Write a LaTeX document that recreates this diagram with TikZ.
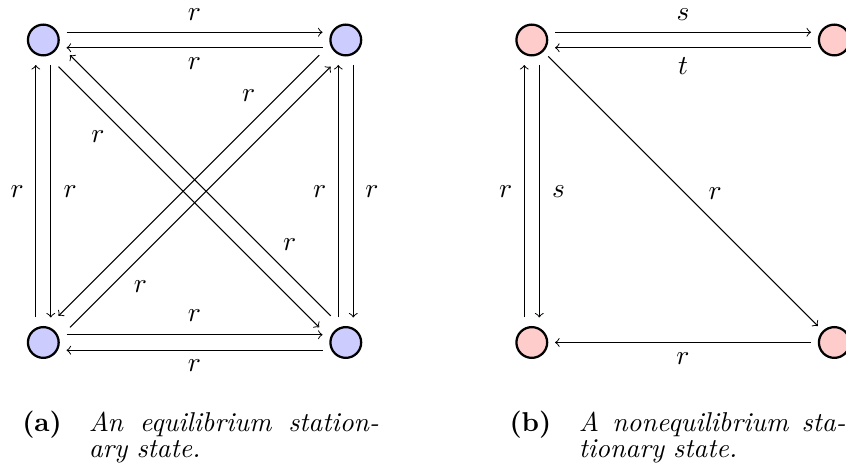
\documentclass[tikz,border=0pt]{standalone}
\usetikzlibrary{positioning}

\begin{document}
\begin{tikzpicture}[font=\fontsize{10.9}{10.1}\selectfont, node distance=121pt, on grid]
  \tikzstyle{state}=[circle, draw, line width=0.9pt, minimum size=12.3pt, inner sep=0pt]
  \tikzstyle{eqst}=[state, fill=blue!20]
  \tikzstyle{neqst}=[state, fill=red!20]
  \tikzstyle{rate}=[->, shorten >=2.7pt, shorten <=2.7pt]
  \tikzstyle{vshort}=[shorten >=3.4pt, shorten <=3.4pt]
  \tikzstyle{dshort}=[shorten >=5.2pt, shorten <=5.2pt]
  \tikzstyle{offset}=[transform canvas={shift={#1}}]
  \tikzstyle{captxt}=[anchor=base west, inner sep=0pt, text width=#1, align=left,
    font=\fontsize{10.9}{10.1}\selectfont\itshape]
  \useasboundingbox (-17.32pt,16pt) rectangle (321.08pt,-171.2pt);

  % (a) equilibrium
  \node[eqst] (a1) {};
  \node[eqst, right=of a1] (a2) {};
  \node[eqst, below=of a1] (a3) {};
  \node[eqst, below=of a2] (a4) {};
  \draw[rate, offset={(0,3.1pt)}] (a1) -- node[above=1.3pt]{$r$} (a2);
  \draw[rate, offset={(0,-3.1pt)}] (a2) -- node[below=0.4pt]{$r$} (a1);
  \draw[rate, offset={(0,3.1pt)}] (a3) -- node[above=1.8pt]{$r$} (a4);
  \draw[rate, offset={(0,-3.1pt)}] (a4) -- node[below=0.1pt]{$r$} (a3);
  \draw[rate, vshort, offset={(-3pt,0)}] (a3) -- node[left=1.3pt]{$r$} (a1);
  \draw[rate, vshort, offset={(3pt,0)}] (a1) -- node[right=1.6pt]{$r$} (a3);
  \draw[rate, vshort, offset={(-3pt,0)}] (a4) -- node[left=1.3pt]{$r$} (a2);
  \draw[rate, vshort, offset={(3pt,0)}] (a2) -- node[right=1.3pt]{$r$} (a4);
  \draw[rate, dshort, offset={(-2.3pt,-2.3pt)}] (a1) -- node[pos=0.23, below left]{$r$} (a4);
  \draw[rate, dshort, offset={(2.3pt,2.3pt)}] (a4) -- node[pos=0.235, above right]{$r$} (a1);
  \draw[rate, dshort, offset={(2.3pt,-2.3pt)}] (a3) -- node[pos=0.23, below right]{$r$} (a2);
  \draw[rate, dshort, offset={(-2.3pt,2.3pt)}] (a2) -- node[pos=0.23, above left]{$r$} (a3);

  % (b) nonequilibrium
  \node[neqst, right=195.4pt of a1] (b1) {};
  \node[neqst, right=of b1] (b2) {};
  \node[neqst, below=of b1] (b3) {};
  \node[neqst, below=of b2] (b4) {};
  \draw[rate, offset={(0,3.1pt)}] (b1) -- node[above=1.3pt]{$s$} (b2);
  \draw[rate, offset={(0,-3.1pt)}] (b2) -- node[below=0.4pt]{$t$} (b1);
  \draw[rate, vshort, offset={(-3pt,0)}] (b3) -- node[left=1.3pt]{$r$} (b1);
  \draw[rate, vshort, offset={(3pt,0)}] (b1) -- node[right=1.6pt]{$s$} (b3);
  \draw[rate] (b1) -- node[pos=0.56, above right]{$r$} (b4);
  \draw[rate] (b4) -- node[below=0.7pt]{$r$} (b3);

  % captions
  \node[anchor=base west, inner sep=0pt] (capa) at (-8.6pt,-156.8pt) {\bfseries (a)};
  \node[captxt=116pt] (capatext) at (18pt,-156.8pt)
    {\noindent\hbox to 116pt{An\hfill equilibrium\hfill station-}\\ary state.};
  \node[anchor=base west, inner sep=0pt] (capb) at (186.3pt,-156.8pt) {\bfseries (b)};
  \node[captxt=116pt] (capbtext) at (214pt,-156.8pt)
    {\noindent\hbox to 106.7pt{A\hfill nonequilibrium\hfill sta-}\\tionary state.};
\end{tikzpicture}
\end{document}
